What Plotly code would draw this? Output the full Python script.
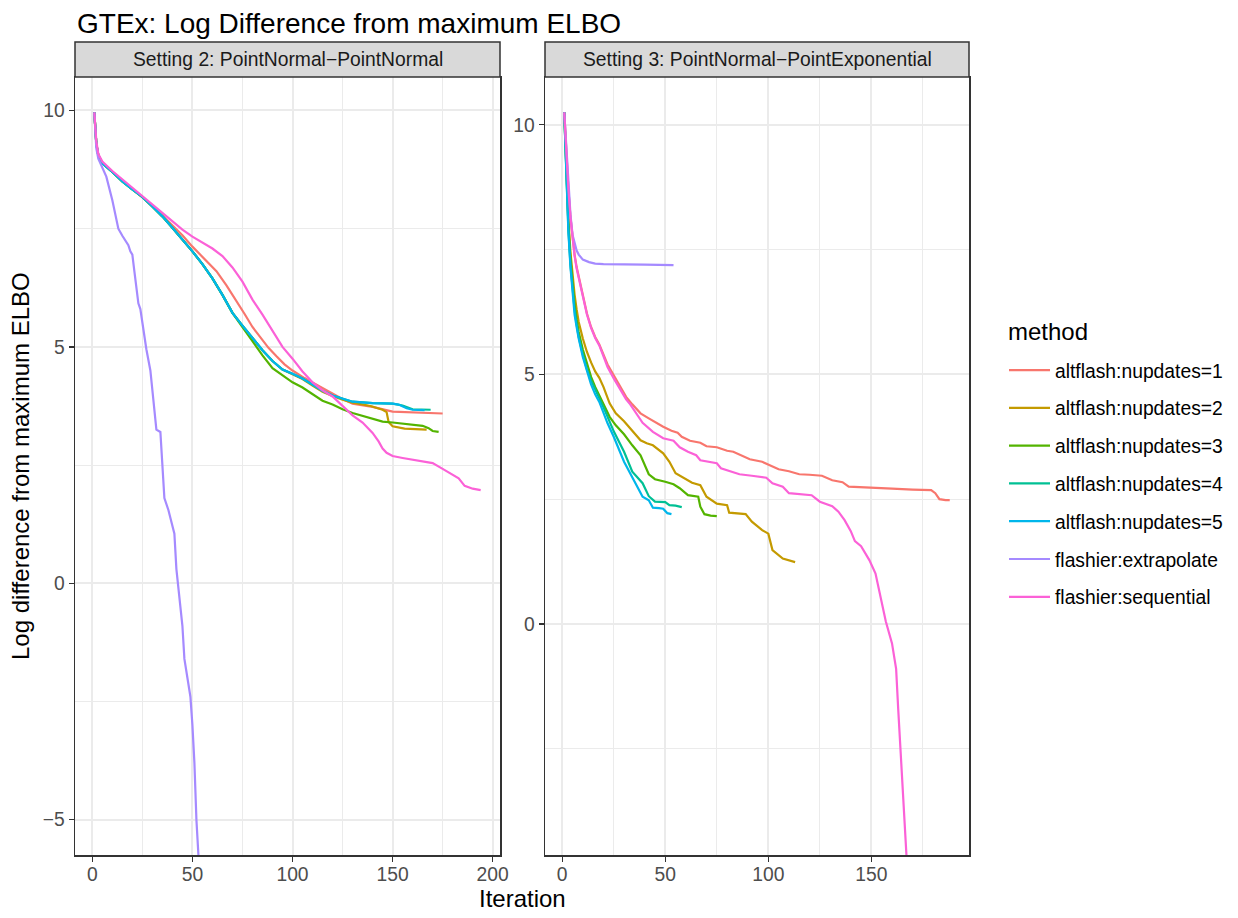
import math
import plotly.graph_objects as go

# ---------------- data ----------------
methods = ["altflash:nupdates=1", "altflash:nupdates=2", "altflash:nupdates=3",
           "altflash:nupdates=4", "altflash:nupdates=5", "flashier:extrapolate",
           "flashier:sequential"]
colors = ["#F8766D", "#C49A00", "#53B400", "#00C094", "#00B6EB", "#A58AFF", "#FB61D7"]
panel_titles = ["Setting 2: PointNormal\u2212PointNormal",
                "Setting 3: PointNormal\u2212PointExponential"]
NEG_INF = float("-inf")

# Setting 2
s2_nup1_x = [1, 2, 3, 5, 10, 15, 20, 25, 30, 35, 40, 45, 50, 55, 62, 67, 72, 76, 80, 84, 88, 92, 96, 100,
             106, 112, 118, 124, 130, 135, 140, 150, 160, 175]
s2_nup1_y = [9.96, 9.3, 9.05, 8.9, 8.7, 8.52, 8.34, 8.17, 7.98, 7.78, 7.57, 7.36, 7.12, 6.9, 6.6, 6.3,
             5.98, 5.7, 5.42, 5.2, 4.98, 4.8, 4.63, 4.5, 4.34, 4.2, 4.06, 3.92, 3.8, 3.76, 3.73, 3.63, 3.61, 3.59]

s2_nup2_x = [1, 2, 3, 5, 10, 15, 20, 25, 30, 35, 40, 45, 50, 55, 60, 65, 70, 75, 80, 85, 90, 95, 100, 105,
             110, 115, 120, 125, 130, 135, 139, 145, 147, 148, 150, 156, 167]
s2_nup2_y = [9.96, 9.3, 9.05, 8.88, 8.7, 8.5, 8.33, 8.17, 7.97, 7.76, 7.52, 7.28, 7.02, 6.75, 6.45, 6.1,
             5.72, 5.45, 5.18, 4.93, 4.7, 4.52, 4.42, 4.32, 4.18, 4.05, 3.96, 3.88, 3.82, 3.78, 3.75, 3.67,
             3.62, 3.41, 3.32, 3.27, 3.25]

s2_nup3_x = [1, 2, 3, 5, 10, 15, 20, 25, 30, 35, 40, 45, 50, 55, 60, 65, 70, 75, 80, 85, 90, 95, 100, 105,
             110, 115, 120, 125, 130, 135, 140, 145, 150, 155, 160, 165, 168, 170, 173]
s2_nup3_y = [9.96, 9.3, 9.05, 8.88, 8.7, 8.5, 8.33, 8.17, 7.97, 7.76, 7.52, 7.28, 7.02, 6.75, 6.45, 6.1,
             5.72, 5.42, 5.12, 4.82, 4.55, 4.4, 4.25, 4.14, 4.0, 3.86, 3.78, 3.68, 3.6, 3.54, 3.47, 3.42,
             3.4, 3.38, 3.36, 3.33, 3.28, 3.22, 3.2]

s2_nup4_x = [1, 2, 3, 5, 10, 15, 20, 25, 30, 35, 40, 45, 50, 55, 60, 65, 70, 75, 80, 85, 90, 95, 100, 105,
             110, 115, 120, 125, 130, 140, 150, 155, 160, 169]
s2_nup4_y = [9.96, 9.3, 9.05, 8.88, 8.7, 8.5, 8.33, 8.17, 7.97, 7.76, 7.52, 7.28, 7.02, 6.75, 6.45, 6.1,
             5.72, 5.45, 5.18, 4.93, 4.7, 4.52, 4.43, 4.33, 4.2, 4.07, 3.97, 3.9, 3.84, 3.81, 3.8, 3.76,
             3.68, 3.67]

s2_nup5_x = [1, 2, 3, 5, 10, 15, 20, 25, 30, 35, 40, 45, 50, 55, 60, 65, 70, 75, 80, 85, 90, 95, 100, 105,
             110, 115, 120, 125, 130, 140, 150, 153, 157, 160, 166]
s2_nup5_y = [9.96, 9.3, 9.05, 8.88, 8.7, 8.5, 8.33, 8.17, 7.97, 7.76, 7.52, 7.28, 7.02, 6.75, 6.45, 6.1,
             5.72, 5.45, 5.18, 4.93, 4.7, 4.52, 4.43, 4.33, 4.2, 4.07, 3.97, 3.9, 3.84, 3.81, 3.8, 3.78,
             3.7, 3.67, 3.66]

s2_extra_x = [1, 2, 3, 5, 7, 10, 13, 15, 18, 19, 20, 21, 22, 23, 24, 25, 27, 29, 30, 31, 32, 34, 35, 36,
              38, 40, 41, 42, 43, 44, 45, 46, 47, 49, 50, 51, 52, 53]
s2_extra_y = [9.96, 9.2, 8.98, 8.8, 8.6, 8.1, 7.5, 7.35, 7.15, 7.02, 6.95, 6.6, 6.2, 5.92, 5.8, 5.5, 4.95,
              4.5, 4.1, 3.6, 3.25, 3.2, 2.5, 1.8, 1.55, 1.25, 1.05, 0.3, -0.1, -0.4, -0.9, -1.6, -1.9,
              -2.4, -3.0, -3.8, -5.0, NEG_INF]

s2_seq_x = [1, 2, 3, 5, 10, 20, 30, 40, 45, 50, 55, 60, 65, 70, 75, 80, 85, 90, 95, 100, 105, 110, 115,
            120, 125, 130, 135, 140, 143, 145, 147, 150, 155, 160, 165, 170, 175, 180, 183, 186, 190, 194]
s2_seq_y = [9.96, 9.35, 9.08, 8.92, 8.72, 8.36, 8.02, 7.65, 7.48, 7.33, 7.2, 7.08, 6.92, 6.68, 6.38, 6.0,
            5.68, 5.35, 5.0, 4.75, 4.48, 4.25, 4.08, 3.95, 3.76, 3.55, 3.4, 3.18, 3.0, 2.85, 2.76, 2.69,
            2.65, 2.61, 2.58, 2.54, 2.42, 2.3, 2.22, 2.06, 2.0, 1.97]

# Setting 3
s3_nup1_x = [1, 2, 3, 4, 5, 6, 7, 8, 10, 12, 14, 16, 18, 20, 22, 25, 28, 31, 34, 38, 42, 46, 49, 53, 56,
             58, 62, 67, 70, 75, 80, 83, 88, 91, 97, 101, 105, 110, 115, 120, 126, 131, 136, 139, 143,
             150, 160, 170, 179, 181, 183, 186, 188]
s3_nup1_y = [10.25, 9.4, 8.7, 8.15, 7.75, 7.4, 7.15, 6.95, 6.55, 6.22, 5.95, 5.75, 5.6, 5.4, 5.2, 4.98,
             4.75, 4.55, 4.4, 4.22, 4.12, 4.02, 3.95, 3.87, 3.83, 3.75, 3.67, 3.63, 3.56, 3.54, 3.47, 3.45,
             3.36, 3.3, 3.25, 3.17, 3.1, 3.06, 3.0, 2.99, 2.97, 2.88, 2.84, 2.75, 2.74, 2.73, 2.71, 2.69,
             2.68, 2.62, 2.5, 2.48, 2.48]

s3_nup2_x = [1, 2, 3, 4, 5, 6, 7, 8, 10, 12, 14, 16, 18, 20, 23, 26, 30, 34, 38, 41, 44, 49, 52, 55, 59,
             63, 67, 70, 75, 80, 81, 89, 92, 97, 100, 102, 107, 113]
s3_nup2_y = [10.25, 9.0, 8.1, 7.45, 7.0, 6.6, 6.3, 6.05, 5.72, 5.45, 5.24, 5.06, 4.93, 4.75, 4.42, 4.22,
             4.06, 3.86, 3.68, 3.62, 3.58, 3.42, 3.25, 3.02, 2.92, 2.83, 2.78, 2.55, 2.41, 2.38, 2.23,
             2.2, 2.05, 1.88, 1.81, 1.48, 1.31, 1.24]

s3_nup3_x = [1, 2, 3, 4, 5, 6, 7, 8, 10, 12, 14, 16, 18, 20, 23, 26, 30, 34, 38, 42, 45, 50, 54, 57, 61,
             66, 67, 69, 72, 75]
s3_nup3_y = [10.25, 8.9, 8.0, 7.3, 6.8, 6.4, 6.1, 5.85, 5.5, 5.2, 4.95, 4.75, 4.58, 4.4, 4.15, 3.98, 3.8,
             3.58, 3.38, 3.0, 2.9, 2.85, 2.8, 2.72, 2.58, 2.55, 2.35, 2.2, 2.17, 2.16]

s3_nup4_x = [1, 2, 3, 4, 5, 6, 7, 8, 10, 12, 14, 16, 18, 21, 25, 30, 34, 37, 39, 42, 45, 50, 52, 55, 58]
s3_nup4_y = [10.25, 8.85, 7.9, 7.2, 6.7, 6.3, 6.0, 5.75, 5.4, 5.1, 4.88, 4.7, 4.55, 4.25, 3.86, 3.45, 3.05,
             2.92, 2.82, 2.56, 2.45, 2.44, 2.38, 2.37, 2.34]

s3_nup5_x = [1, 2, 3, 4, 5, 6, 7, 8, 10, 12, 14, 16, 18, 22, 25, 30, 33, 36, 39, 42, 44, 47, 49, 51, 53]
s3_nup5_y = [10.25, 8.8, 7.85, 7.15, 6.6, 6.2, 5.95, 5.72, 5.35, 5.05, 4.8, 4.6, 4.45, 4.02, 3.75, 3.25,
             3.02, 2.78, 2.55, 2.48, 2.33, 2.32, 2.31, 2.22, 2.2]

s3_extra_x = [1, 2, 3, 4, 5, 6, 7, 8, 10, 13, 16, 20, 30, 40, 54]
s3_extra_y = [10.25, 9.5, 8.8, 8.2, 7.8, 7.63, 7.48, 7.4, 7.3, 7.25, 7.22, 7.21, 7.21, 7.2, 7.19]

s3_seq_x = [1, 2, 3, 4, 5, 6, 7, 8, 10, 12, 14, 16, 18, 20, 22, 25, 28, 31, 33, 36, 39, 44, 49, 54, 57,
            61, 65, 67, 72, 75, 77, 82, 86, 92, 99, 102, 107, 110, 115, 121, 125, 131, 134, 137, 140, 142,
            145, 149, 152, 154, 157, 160, 162, 163, 164, 165, 166, 167]
s3_seq_y = [10.25, 9.4, 8.7, 8.15, 7.72, 7.38, 7.12, 6.93, 6.52, 6.2, 5.93, 5.73, 5.58, 5.35, 5.15, 4.92,
            4.7, 4.5, 4.4, 4.22, 4.03, 3.85, 3.72, 3.67, 3.54, 3.45, 3.38, 3.28, 3.24, 3.22, 3.12, 3.06,
            3.0, 2.97, 2.93, 2.82, 2.75, 2.62, 2.6, 2.58, 2.45, 2.36, 2.25, 2.08, 1.86, 1.66, 1.56, 1.28,
            1.01, 0.6, 0.05, -0.39, -0.9, -1.7, -2.5, -3.25, -3.92, NEG_INF]

x_ticks = [0, 50, 100, 150, 200]
y_ticks = [-5, 0, 5, 10]
y_tick_text = ["\u22125", "0", "5", "10"]

panels = [
    [(s2_nup1_x, s2_nup1_y), (s2_nup2_x, s2_nup2_y), (s2_nup3_x, s2_nup3_y), (s2_nup4_x, s2_nup4_y),
     (s2_nup5_x, s2_nup5_y), (s2_extra_x, s2_extra_y), (s2_seq_x, s2_seq_y)],
    [(s3_nup1_x, s3_nup1_y), (s3_nup2_x, s3_nup2_y), (s3_nup3_x, s3_nup3_y), (s3_nup4_x, s3_nup4_y),
     (s3_nup5_x, s3_nup5_y), (s3_extra_x, s3_extra_y), (s3_seq_x, s3_seq_y)],
]

# ---------------- style ----------------
FONT = "Liberation Sans, Arial, Helvetica, sans-serif"
OFF = 0                       # page body margin removed by post_script below
W, H = 1238 - OFF, 918 - OFF
ML, MT = 75 - OFF, 77 - OFF
MR = W - (969 - OFF)
MB = H - (855 - OFF)
plot_w = W - ML - MR
plot_h = H - MT - MB
dom1 = [0, (500 - 75) / plot_w]
dom2 = [(545 - 75) / plot_w, 1]
GRID = "#EBEBEB"
DARK = "#333333"
TXT = 19.3


def px_x(page_x):
    return (page_x - OFF - ML) / plot_w


def px_y(page_y):
    return (H - MB - (page_y - OFF)) / plot_h


def expanded(vals):
    fin = [v for v in vals if math.isfinite(v)]
    lo, hi = min(fin), max(fin)
    pad = 0.05 * (hi - lo)
    return [lo - pad, hi + pad]


fig = go.Figure()
axis_names = [("x", "y"), ("x2", "y2")]
ranges = []
for p, series in enumerate(panels):
    xr = expanded([v for xs, _ in series for v in xs])
    yr = expanded([v for _, ys in series for v in ys])
    ranges.append((xr, yr))
    for i, (xs, ys) in enumerate(series):
        # -Inf values are drawn at the lower panel edge, as ggplot does
        yy = [yr[0] if (not math.isfinite(v) and v < 0) else v for v in ys]
        fig.add_trace(go.Scatter(
            x=xs, y=yy, mode="lines", name=methods[i],
            line=dict(color=colors[i], width=2.2),
            legendgroup=methods[i], showlegend=(p == 0),
            xaxis=axis_names[p][0], yaxis=axis_names[p][1],
            hoverinfo="skip"))


def xaxis_cfg(dom, rng, anchor):
    return dict(domain=dom, range=rng, anchor=anchor, tickmode="array", tickvals=x_ticks,
                ticktext=[str(t) for t in x_ticks],
                showgrid=True, gridcolor=GRID, gridwidth=2,
                minor=dict(tickmode="array", tickvals=[-25, 25, 75, 125, 175, 225],
                           showgrid=True, gridcolor=GRID, gridwidth=1, ticks=""),
                showline=True, mirror=True, linecolor=DARK, linewidth=1.5,
                ticks="outside", ticklen=5, tickwidth=1.3, tickcolor=DARK,
                ticklabelstandoff=-4,
                tickfont=dict(family=FONT, size=TXT, color="#4D4D4D"),
                zeroline=False)


def yaxis_cfg(rng, anchor):
    return dict(domain=[0, 1], range=rng, anchor=anchor, tickmode="array", tickvals=y_ticks,
                ticktext=y_tick_text,
                showgrid=True, gridcolor=GRID, gridwidth=2,
                minor=dict(tickmode="array", tickvals=[-7.5, -2.5, 2.5, 7.5, 12.5],
                           showgrid=True, gridcolor=GRID, gridwidth=1, ticks=""),
                showline=True, mirror=True, linecolor=DARK, linewidth=1.5,
                ticks="outside", ticklen=5, tickwidth=1.3, tickcolor=DARK,
                tickfont=dict(family=FONT, size=TXT, color="#4D4D4D"),
                zeroline=False)


strip_top = px_y(42)
shapes = []
annotations = []
for dom, txt in zip([dom1, dom2], panel_titles):
    shapes.append(dict(type="rect", xref="paper", yref="paper", x0=dom[0], x1=dom[1], y0=1,
                       y1=strip_top, fillcolor="#D9D9D9", line=dict(color=DARK, width=1.5),
                       layer="above"))
    annotations.append(dict(xref="paper", yref="paper", x=(dom[0] + dom[1]) / 2,
                            y=(1 + strip_top) / 2, text=txt, showarrow=False,
                            xanchor="center", yanchor="middle",
                            font=dict(family=FONT, size=TXT, color="#1A1A1A")))

annotations.append(dict(xref="paper", yref="paper", x=0.5, y=px_y(899),
                        text="Iteration", showarrow=False, xanchor="center", yanchor="middle",
                        font=dict(family=FONT, size=24, color="black")))
annotations.append(dict(xref="paper", yref="paper", x=px_x(20), y=0.5,
                        text="Log difference from maximum ELBO", showarrow=False, textangle=-90,
                        xanchor="center", yanchor="middle",
                        font=dict(family=FONT, size=24, color="black")))
annotations.append(dict(xref="paper", yref="paper", x=px_x(1006), y=px_y(331),
                        text="method", showarrow=False, xanchor="left", yanchor="middle",
                        font=dict(family=FONT, size=24, color="black")))
# plot title, left-aligned with the panels
annotations.append(dict(xref="paper", yref="paper", x=0, y=px_y(23),
                        text="GTEx: Log Difference from maximum ELBO", showarrow=False,
                        xanchor="left", yanchor="middle",
                        font=dict(family=FONT, size=28, color="black")))

fig.update_layout(
    width=W, height=H,
    margin=dict(l=ML, r=MR, t=MT, b=MB, autoexpand=False),
    paper_bgcolor="white", plot_bgcolor="white",
    font=dict(family=FONT, color="black"),
    xaxis=xaxis_cfg(dom1, ranges[0][0], "y"),
    yaxis=yaxis_cfg(ranges[0][1], "x"),
    xaxis2=xaxis_cfg(dom2, ranges[1][0], "y2"),
    yaxis2=yaxis_cfg(ranges[1][1], "x2"),
    shapes=shapes, annotations=annotations,
    legend=dict(x=px_x(1004), xanchor="left", y=px_y(351), yanchor="top",
                font=dict(family=FONT, size=TXT, color="black"),
                tracegroupgap=9.7, itemwidth=41, bgcolor="rgba(0,0,0,0)"),
    showlegend=True,
)

fig.write_html("out.html", config={"displayModeBar": False, "staticPlot": True},
               post_script="document.body.style.margin='0';document.body.style.overflow='hidden';")
